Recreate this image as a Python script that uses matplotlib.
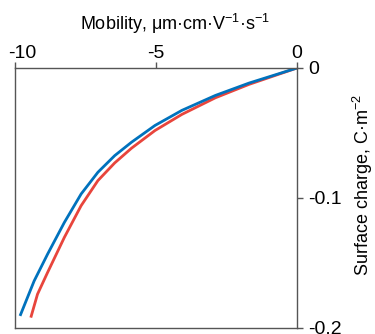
import matplotlib
matplotlib.use("Agg")
import matplotlib.pyplot as plt
import matplotlib.transforms as mtransforms

plt.rcParams['font.family'] = ['Liberation Sans', 'DejaVu Sans']
plt.rcParams['mathtext.fontset'] = 'custom'
plt.rcParams['mathtext.rm'] = 'Liberation Sans'
plt.rcParams['mathtext.it'] = 'Liberation Sans:italic'
plt.rcParams['axes.unicode_minus'] = False

# Data
blue_x = [0.0, -1.702, -2.893, -4.083, -5.036, -5.869, -6.464, -7.060, -7.655, -8.250, -8.845, -9.321, -9.821]
blue_y = [0.0, -0.0116, -0.0211, -0.0326, -0.0442, -0.0571, -0.0674, -0.0802, -0.0969, -0.1188, -0.1432, -0.1638, -0.1907]
red_x = [0.0, -1.702, -2.893, -4.083, -5.036, -5.869, -6.464, -7.060, -7.655, -8.250, -8.845, -9.202, -9.440]
red_y = [0.0, -0.0126, -0.0229, -0.0357, -0.0481, -0.0617, -0.0730, -0.0866, -0.1059, -0.1303, -0.1573, -0.1740, -0.1920]
x_ticks = [-10, -5, 0]
x_ticklabels = ['-10', '-5', '0']
y_ticks = [0, -0.1, -0.2]
y_ticklabels = ['0', '-0.1', '-0.2']

fig = plt.figure(figsize=(3.75, 3.34), dpi=100)
ax = fig.add_axes([15/375, 1-328/334, (297-15)/375, (328-68)/334])

ax.plot(red_x, red_y, color='#E8453C', lw=2.0, solid_capstyle='butt')
ax.plot(blue_x, blue_y, color='#0072BD', lw=2.0, solid_capstyle='butt')

ax.set_xlim(-10, 0)
ax.set_ylim(-0.2, 0)
ax.set_xticks(x_ticks)
ax.set_xticklabels(x_ticklabels)
ax.set_yticks(y_ticks)
ax.set_yticklabels(y_ticklabels)
ax.xaxis.tick_top()
ax.yaxis.tick_right()
ax.tick_params(axis='both', direction='out', length=4, width=1, colors='#555555',
               labelcolor='black', labelsize=14)
ax.tick_params(axis='x', pad=0)
ax.tick_params(axis='y', pad=4)

# small nudge of the leftmost x label as in the reference
lbl = ax.get_xticklabels()[0]
lbl.set_transform(lbl.get_transform() + mtransforms.ScaledTranslation(7/100, 0, fig.dpi_scale_trans))

for s in ax.spines.values():
    s.set_color('#555555')
    s.set_linewidth(1.0)

fig.text(175/375, 1-24/334, r'Mobility, μm·cm·V$^{\mathregular{-1}}$·s$^{\mathregular{-1}}$',
         ha='center', va='center', fontsize=13)
fig.text(363/375, 1-185/334, r'Surface charge, C·m$^{\mathregular{-2}}$',
         ha='center', va='center', rotation=90, fontsize=13)

fig.savefig('out.png', dpi=100)
